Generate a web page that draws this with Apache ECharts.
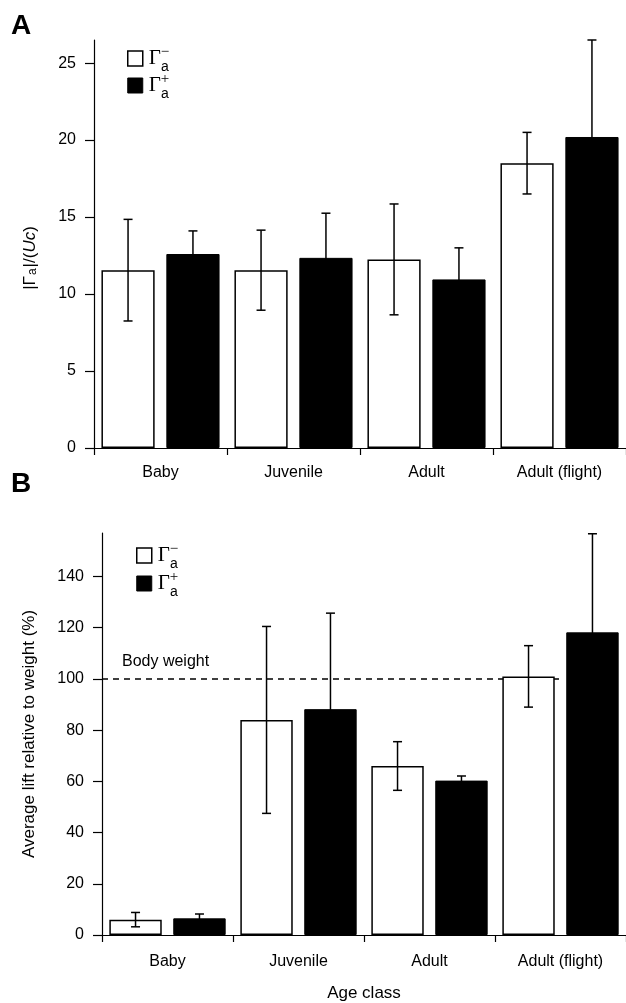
<!DOCTYPE html>
<html>
<head>
<meta charset="utf-8">
<script src="https://cdn.jsdelivr.net/npm/echarts@6/dist/echarts.min.js"></script>
<style>
  html, body { margin: 0; padding: 0; background: #fff; }
  #main { width: 626px; height: 1003px; }
</style>
</head>
<body>
<div id="main"></div>
<script>
var categories = ['Baby', 'Juvenile', 'Adult', 'Adult (flight)'];

// panel A, |Γa|/(Uc)
var circMinusA = [11.55, 11.55, 12.25, 18.5];
var circMinusErrA = [3.3, 2.6, 3.6, 2.0];
var circPlusA = [12.6, 12.35, 10.95, 20.2];
var circPlusErrA = [1.5, 2.9, 2.05, 6.3];

// panel B, average lift relative to weight (%)
var liftMinusB = [6, 84, 66, 101];
var liftMinusErrB = [2.8, 36.5, 9.5, 12];
var liftPlusB = [6.5, 88.2, 60.3, 118.2];
var liftPlusErrB = [1.7, 37.5, 1.8, 38.5];
var bodyWeight = 100;

var font = 'Liberation Sans, Arial, Helvetica, sans-serif';
var serif = 'Liberation Serif, Times New Roman, serif';

function errData(vals, errs) {
  return vals.map(function (v, i) { return [i, v - errs[i], v + errs[i]]; });
}

// error bars, side -1 = left bar of the pair, +1 = right bar
function errorBars(side) {
  return function (params, api) {
    var band = api.size([1, 0])[0];
    var dx = side * band * 0.244;
    var top = api.coord([api.value(0), api.value(2)]);
    var bot = api.coord([api.value(0), api.value(1)]);
    var x = top[0] + dx, cap = 4.5;
    var st = { stroke: '#000', lineWidth: 1.5 };
    return {
      type: 'group',
      children: [
        { type: 'line', shape: { x1: x, y1: top[1], x2: x, y2: bot[1] }, style: st },
        { type: 'line', shape: { x1: x - cap, y1: top[1], x2: x + cap, y2: top[1] }, style: st },
        { type: 'line', shape: { x1: x - cap, y1: bot[1], x2: x + cap, y2: bot[1] }, style: st }
      ]
    };
  };
}

function catAxis(gridIndex, margin, extra) {
  var ax = {
    type: 'category',
    gridIndex: gridIndex,
    data: categories,
    axisLine: { lineStyle: { color: '#000', width: 1.2 } },
    axisTick: { show: true, length: 7, interval: 0, lineStyle: { color: '#000', width: 1.2 } },
    axisLabel: { color: '#000', fontSize: 16, fontFamily: font, margin: margin, interval: 0 }
  };
  return Object.assign(ax, extra || {});
}

function valAxis(gridIndex, max, interval, extra) {
  var ax = {
    type: 'value',
    gridIndex: gridIndex,
    min: 0,
    max: max,
    interval: interval,
    splitLine: { show: false },
    axisLine: { show: true, lineStyle: { color: '#000', width: 1.2 } },
    axisTick: { show: true, length: 9, lineStyle: { color: '#000', width: 1.2 } },
    axisLabel: { color: '#000', fontSize: 16, fontFamily: font, margin: 18, showMaxLabel: false }
  };
  return Object.assign(ax, extra || {});
}

var whiteStyle = { color: '#fff', borderColor: '#000', borderWidth: 1.5 };
var blackStyle = { color: '#000', borderColor: '#000', borderWidth: 1 };

function legendFor(left, top, gap) {
  return {
    left: left, top: top, orient: 'vertical',
    itemWidth: 15, itemHeight: 15, itemGap: gap,
    selectedMode: false,
    formatter: function () { return 'Γ'; },
    textStyle: { fontFamily: serif, fontSize: 21, color: '#000', padding: [0, 0, 0, 1] },
    data: [
      { name: 'Γa−', icon: 'rect', itemStyle: { color: '#fff', borderColor: '#000', borderWidth: 1.5 } },
      { name: 'Γa+', icon: 'rect', itemStyle: { color: '#000', borderColor: '#000', borderWidth: 1 } }
    ]
  };
}

// superscript sign and subscript "a" beside each legend Γ
function legendMarks(x, y, gap) {
  var out = [];
  [['−', 0], ['+', gap]].forEach(function (m) {
    out.push({ type: 'text', x: x, y: y + m[1] - 6, style: { text: m[0], font: '15px ' + serif, fill: '#000', align: 'center', verticalAlign: 'middle' } });
    out.push({ type: 'text', x: x, y: y + m[1] + 9, style: { text: 'a', font: '14px ' + font, fill: '#000', align: 'center', verticalAlign: 'middle' } });
  });
  return out;
}

var chart = echarts.init(document.getElementById('main'));
var option = {
  animation: false,
  backgroundColor: '#fff',
  grid: [
    { left: 94, top: 40, width: 534, height: 408 },
    { left: 102, top: 533, width: 526, height: 405 }
  ],
  legend: [legendFor(122, 43, 6), legendFor(131, 540, 7)],
  xAxis: [
    catAxis(0, 17),
    catAxis(1, 19, {
      name: 'Age class', nameLocation: 'middle', nameGap: 50,
      nameTextStyle: { color: '#000', fontSize: 17, fontFamily: font }
    }),
    { type: 'value', gridIndex: 1, min: 0, max: 4, show: false }
  ],
  yAxis: [
    valAxis(0, 26.5, 5),
    valAxis(1, 157, 20, {
      name: 'Average lift relative to weight (%)', nameLocation: 'middle', nameGap: 64,
      nameTextStyle: { color: '#000', fontSize: 17, fontFamily: font }
    })
  ],
  graphic: [
    { type: 'text', left: 11, top: 12, style: { text: 'A', font: 'bold 28px ' + font, fill: '#000' } },
    { type: 'text', left: 11, top: 470, style: { text: 'B', font: 'bold 28px ' + font, fill: '#000' } },
    {
      type: 'text', x: 30, y: 258, rotation: Math.PI / 2,
      style: {
        text: '|Γ{s|a}|/({i|Uc})',
        font: '17px ' + font, fill: '#000', align: 'center', verticalAlign: 'middle',
        rich: {
          s: { fontSize: 12, fontFamily: font, verticalAlign: 'bottom', padding: [6, 1, 0, 1] },
          i: { fontSize: 17, fontFamily: font, fontStyle: 'italic' }
        }
      }
    }
  ].concat(legendMarks(165, 58.5, 26.5), legendMarks(174, 555.5, 27.5)),
  series: [
    { name: 'Γa−', type: 'bar', xAxisIndex: 0, yAxisIndex: 0, data: circMinusA, barWidth: '40%', barGap: '22%', itemStyle: whiteStyle },
    { name: 'Γa+', type: 'bar', xAxisIndex: 0, yAxisIndex: 0, data: circPlusA, barWidth: '40%', barGap: '22%', itemStyle: blackStyle },
    { type: 'custom', xAxisIndex: 0, yAxisIndex: 0, renderItem: errorBars(-1), data: errData(circMinusA, circMinusErrA), z: 5 },
    { type: 'custom', xAxisIndex: 0, yAxisIndex: 0, renderItem: errorBars(1), data: errData(circPlusA, circPlusErrA), z: 5 },

    { name: 'Γa−', type: 'bar', xAxisIndex: 1, yAxisIndex: 1, data: liftMinusB, barWidth: '40%', barGap: '22%', itemStyle: whiteStyle },
    { name: 'Γa+', type: 'bar', xAxisIndex: 1, yAxisIndex: 1, data: liftPlusB, barWidth: '40%', barGap: '22%', itemStyle: blackStyle },
    { type: 'custom', xAxisIndex: 1, yAxisIndex: 1, renderItem: errorBars(-1), data: errData(liftMinusB, liftMinusErrB), z: 5 },
    { type: 'custom', xAxisIndex: 1, yAxisIndex: 1, renderItem: errorBars(1), data: errData(liftPlusB, liftPlusErrB), z: 5 },

    {
      type: 'line', xAxisIndex: 2, yAxisIndex: 1, z: 1,
      symbolSize: 0, silent: true,
      lineStyle: { color: '#000', width: 1.5, type: [6, 5] },
      data: [
        { value: [0, bodyWeight], label: { show: true, position: 'top', align: 'left', offset: [20, -4], formatter: 'Body weight', color: '#000', fontSize: 16, fontFamily: font } },
        [3.5, bodyWeight]
      ]
    }
  ]
};
chart.setOption(option);
</script>
</body>
</html>
